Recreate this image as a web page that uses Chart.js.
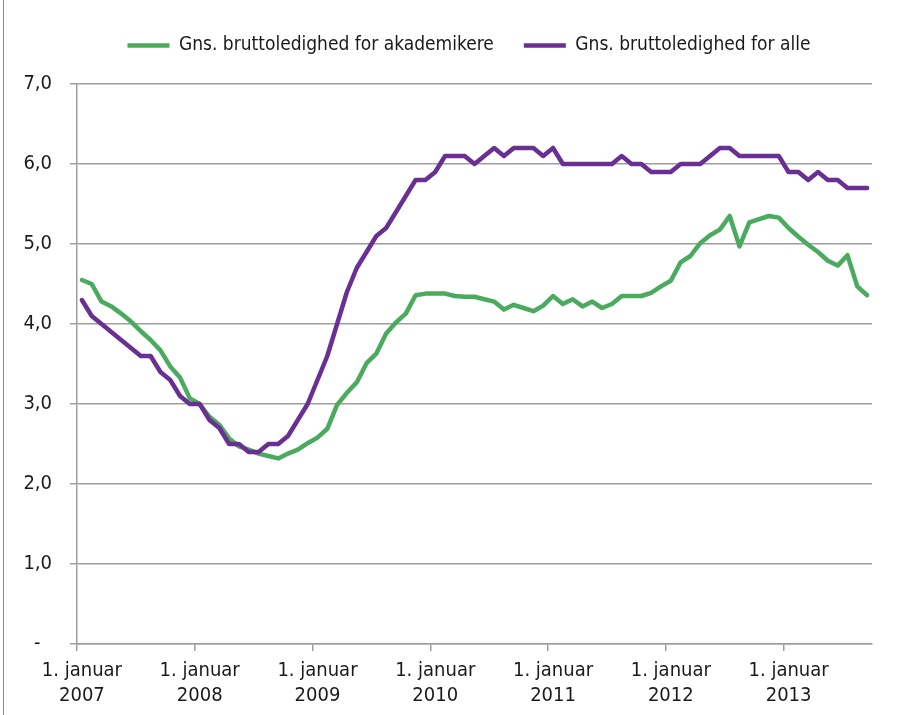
<!DOCTYPE html>
<html>
<head>
<meta charset="utf-8">
<title>Gns. bruttoledighed 2007-2013</title>
<script src="https://cdn.jsdelivr.net/npm/chart.js@4.4.0/dist/chart.umd.min.js"></script>
<style>
  html, body { margin: 0; padding: 0; background: #fff; }
  #wrap { position: relative; width: 918px; height: 715px; }
  #frame { position: absolute; left: 3px; top: 0; width: 1px; height: 715px; background: #8c8c8c; }
</style>
</head>
<body>
<div id="wrap">
  <canvas id="ledighed" width="918" height="715"></canvas>
  <div id="frame"></div>
</div>
<script>
// Monthly figures, januar 2007 - september 2013
const years = [2007, 2008, 2009, 2010, 2011, 2012, 2013];
const lastMonth = 9; // data stops in september 2013

const akademikere = [
    4.55, 4.50, 4.28, 4.22, 4.13, 4.03, 3.91, 3.80, 3.67, 3.47, 3.33, 3.07,
    3.00, 2.84, 2.74, 2.57, 2.47, 2.43, 2.38, 2.35, 2.32, 2.38, 2.43, 2.51,
    2.58, 2.69, 2.99, 3.14, 3.27, 3.51, 3.63, 3.88, 4.02, 4.13, 4.36, 4.38,
    4.38, 4.38, 4.35, 4.34, 4.34, 4.31, 4.28, 4.18, 4.24, 4.20, 4.16, 4.23,
    4.35, 4.25, 4.31, 4.22, 4.28, 4.20, 4.25, 4.35, 4.35, 4.35, 4.39, 4.47,
    4.54, 4.77, 4.85, 5.01, 5.11, 5.18, 5.35, 4.97, 5.27, 5.31, 5.35, 5.33,
    5.20, 5.09, 4.99, 4.90, 4.79, 4.73, 4.86, 4.47, 4.36
];

const alle = [
    4.3, 4.1, 4.0, 3.9, 3.8, 3.7, 3.6, 3.6, 3.4, 3.3, 3.1, 3.0,
    3.0, 2.8, 2.7, 2.5, 2.5, 2.4, 2.4, 2.5, 2.5, 2.6, 2.8, 3.0,
    3.3, 3.6, 4.0, 4.4, 4.7, 4.9, 5.1, 5.2, 5.4, 5.6, 5.8, 5.8,
    5.9, 6.1, 6.1, 6.1, 6.0, 6.1, 6.2, 6.1, 6.2, 6.2, 6.2, 6.1,
    6.2, 6.0, 6.0, 6.0, 6.0, 6.0, 6.0, 6.1, 6.0, 6.0, 5.9, 5.9,
    5.9, 6.0, 6.0, 6.0, 6.1, 6.2, 6.2, 6.1, 6.1, 6.1, 6.1, 6.1,
    5.9, 5.9, 5.8, 5.9, 5.8, 5.8, 5.7, 5.7, 5.7
];

const seriesNames = ['Gns. bruttoledighed for akademikere', 'Gns. bruttoledighed for alle'];
const tickPrefix = '1. januar';
// accounting style: the zero shows as a dash set in from the right
const yTickLabels = ['-  ', '1,0', '2,0', '3,0', '4,0', '5,0', '6,0', '7,0'];

// one category per month
const months = [];
years.forEach(function(y, i) {
    const n = (i === years.length - 1) ? lastMonth : 12;
    for (let m = 1; m <= n; m++) {
        months.push(y + '-' + (m < 10 ? '0' + m : m));
    }
});

const colors = {
    green: '#4aab5e',
    purple: '#6a2f92',
    grid: '#9d9d9d',
    text: '#1a1a1a'
};

const fontFamily = '"DejaVu Sans Condensed", "Liberation Sans Narrow", sans-serif';

// legend: fixed height and nudged right of the plot centre
const legendBox = {
    id: 'legendBox',
    beforeInit(chart) {
        const fit = chart.legend.fit;
        chart.legend.fit = function() {
            fit.bind(chart.legend)();
            this.height = 78;
        };
    },
    afterLayout(chart) {
        chart.legend.left += 28;
        chart.legend.right += 28;
    }
};

new Chart(document.getElementById('ledighed'), {
    type: 'line',
    data: {
        labels: months,
        datasets: [{
            label: seriesNames[0],
            data: akademikere,
            borderColor: colors.green,
            backgroundColor: colors.green,
            borderWidth: 4.5,
            pointRadius: 0,
            tension: 0,
            borderJoinStyle: 'round',
            borderCapStyle: 'round',
            order: 1
        }, {
            label: seriesNames[1],
            data: alle,
            borderColor: colors.purple,
            backgroundColor: colors.purple,
            borderWidth: 4.5,
            pointRadius: 0,
            tension: 0,
            borderJoinStyle: 'round',
            borderCapStyle: 'round',
            order: 0
        }]
    },
    options: {
        responsive: false,
        animation: false,
        devicePixelRatio: 1,
        layout: {
            padding: { left: 10, right: 46, top: 6, bottom: 0 }
        },
        scales: {
            x: {
                offset: true,
                afterFit: function(scale) { scale.height = 71; },
                grid: {
                    offset: true,
                    drawOnChartArea: false,
                    tickLength: 7,
                    lineWidth: 1.5,
                    color: function(c) {
                        return c.index % 12 === 0 ? colors.grid : 'rgba(0,0,0,0)';
                    }
                },
                border: { color: colors.grid, width: 1.5 },
                ticks: {
                    autoSkip: false,
                    maxRotation: 0,
                    padding: 7,
                    color: colors.text,
                    font: { family: fontFamily, size: 20, lineHeight: 1.25 },
                    callback: function(value, index) {
                        if (index % 12 !== 0) return '';
                        return [tickPrefix, String(years[index / 12])];
                    }
                }
            },
            y: {
                min: 0,
                max: 7,
                afterFit: function(scale) { scale.width = 67; },
                grid: {
                    color: colors.grid,
                    lineWidth: 1.5,
                    tickLength: 7
                },
                border: { color: colors.grid, width: 1.5 },
                ticks: {
                    stepSize: 1,
                    padding: 18,
                    color: colors.text,
                    font: { family: fontFamily, size: 20 },
                    callback: function(value) {
                        return yTickLabels[value];
                    }
                }
            }
        },
        plugins: {
            legend: {
                position: 'top',
                labels: {
                    usePointStyle: true,
                    pointStyle: 'line',
                    pointStyleWidth: 42,
                    padding: 30,
                    color: colors.text,
                    font: { family: fontFamily, size: 19 },
                    sort: function(a, b) { return a.datasetIndex - b.datasetIndex; }
                }
            },
            tooltip: { enabled: false }
        }
    },
    plugins: [legendBox]
});
</script>
</body>
</html>
